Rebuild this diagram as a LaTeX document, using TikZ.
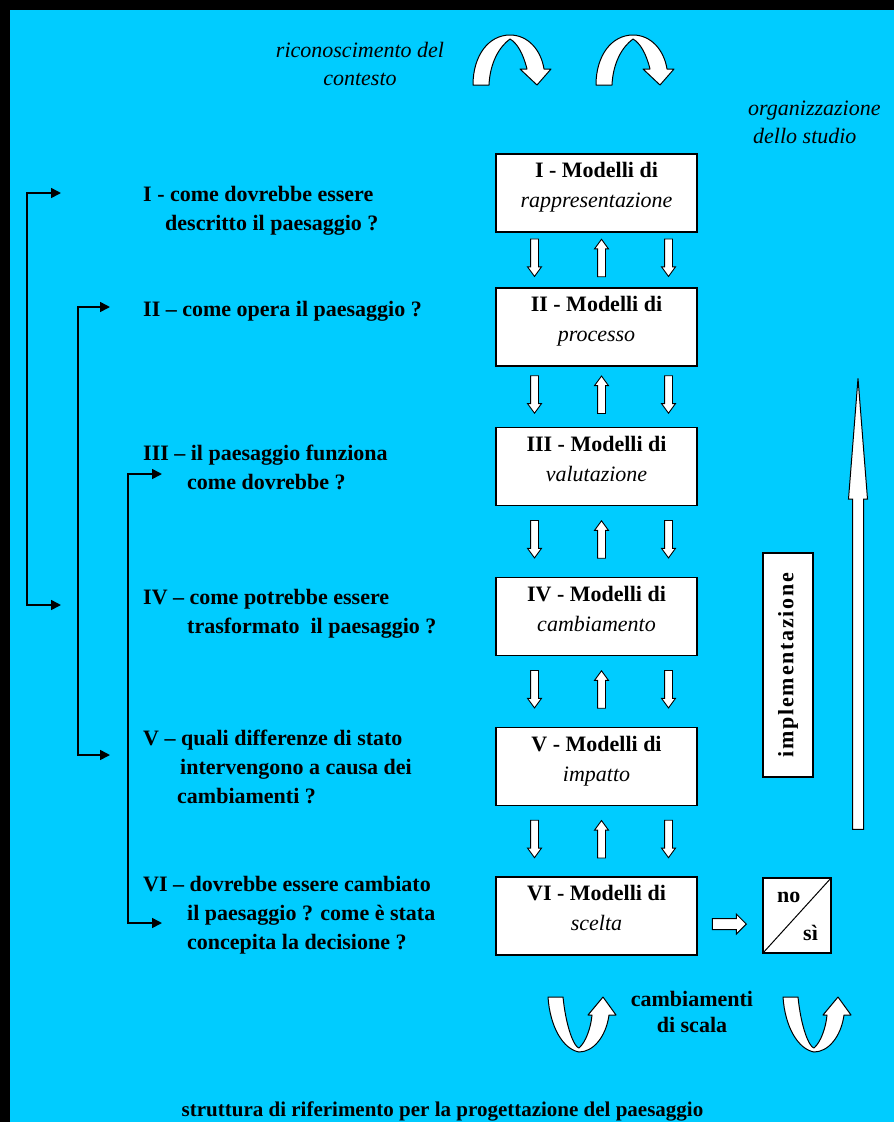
\documentclass[tikz,border=0pt]{standalone}
\usepackage{fontspec}
\setmainfont{Liberation Serif}
\usetikzlibrary{shapes.arrows,arrows.meta,calc}
\definecolor{sfondo}{RGB}{0,204,255}
\tikzset{
  testo/.style={font=\fontsize{22}{29}\selectfont\bfseries, inner sep=0pt, align=left, anchor=north west},
  modello/.style={draw, fill=white, line width=1.2pt, minimum width=201pt, minimum height=78pt, inner sep=0pt},
  titolo/.style={font=\fontsize{22}{30}\selectfont, inner sep=0pt, align=center, anchor=north},
  freccina/.style={single arrow, draw, fill=white, line width=0.9pt, inner sep=3.5pt, minimum height=37.5pt, single arrow head extend=3pt, single arrow tip angle=72},
  rinvio/.style={line width=1.6pt, {Triangle[length=10pt,width=10pt]}-{Triangle[length=10pt,width=10pt]}},
  ricurva/.style={draw, fill=white, line width=1pt, line join=round},
  arco/.pic={\draw[ricurva] (0,0) .. controls (0,-30) and (16,-50) .. (37,-50) .. controls (55,-50) and (68,-35) .. (71,-16) -- (78,-16) -- (64,0) -- (47,-16) -- (54,-16) .. controls (50,-32) and (44,-42) .. (37,-46) .. controls (26,-38) and (17,-22) .. (16,0) -- cycle;},
  conca/.pic={\draw[ricurva] (0,0) -- (15,0) .. controls (18,30) and (26,50) .. (31,51) .. controls (38,45) and (43,30) .. (44,18) -- (40,18) -- (55,0) -- (68,18) -- (61,18) .. controls (58,40) and (45,55) .. (31,55) .. controls (15,52) and (2,30) .. (0,0) -- cycle;},
}
\begin{document}
\begin{tikzpicture}[x=1pt,y=-1pt]
\useasboundingbox (0,0) rectangle (894,1122);
\fill[black] (0,0) rectangle (894,1122);
\fill[sfondo] (10,10) rectangle (894,1122);

\pic at (473,85) {arco};
\pic at (596,85) {arco};
\node[font=\fontsize{22}{28}\selectfont\itshape, align=center, anchor=north, inner sep=0pt] (contesto) at (360,37.4) {\strut riconoscimento del\\contesto};
\node[font=\fontsize{22}{28}\selectfont\itshape, align=left, anchor=north west, inner sep=0pt] (studio) at (748,95.4) {\strut organizzazione\\\hspace*{5pt}dello studio};

\foreach \n/\y/\r/\t in {1/193/I/rappresentazione, 2/327/II/processo, 3/466.5/III/valutazione, 4/616.5/IV/cambiamento, 5/766.5/V/impatto, 6/916/VI/scelta}{
  \node[modello] (m\n) at (596.5,\y) {};
  \node[titolo] (t\n) at ([yshift=-3pt]m\n.north) {\strut\textbf{\r\ - Modelli di}\\\textit{\t}};
}
\foreach \a/\b in {1/2,2/3,3/4,4/5,5/6}{
  \coordinate (c\a) at ($(m\a.south)!.5!(m\b.north)+(0,-21.5)$);
  \node[freccina, rotate=-90, anchor=tail] (g\a a) at ($(c\a)+(-62,0)$) {};
  \node[freccina, rotate=90, anchor=tip] (g\a b) at ($(c\a)+(5,0)$) {};
  \node[freccina, rotate=-90, anchor=tail] (g\a c) at ($(c\a)+(72,0)$) {};
}

\node[testo] (q1) at (143,180.7) {\strut I - come dovrebbe essere\\\hspace*{22pt}descritto il paesaggio ?};
\node[testo] (q2) at (143,295.7) {\strut II – come opera il paesaggio ?};
\node[testo] (q3) at (143,439.7) {\strut III – il paesaggio funziona\\\hspace*{44pt}come dovrebbe ?};
\node[testo] (q4) at (143,583.7) {\strut IV – come potrebbe essere\\\hspace*{44pt}trasformato\ \ il paesaggio ?};
\node[testo] (q5) at (143,724.7) {\strut V – quali differenze di stato\\\hspace*{37pt}intervengono a causa dei\\\hspace*{34pt}cambiamenti ?};
\node[testo] (q6) at (143,870.7) {\strut VI – dovrebbe essere cambiato\\\hspace*{44pt}il paesaggio ? come è stata\\\hspace*{44pt}concepita la decisione ?};

\coordinate (e1) at (61,193);
\coordinate (e4) at (61,605);
\coordinate (e2) at (110,307);
\coordinate (e5) at (110,755);
\coordinate (e3) at (162,474);
\coordinate (e6) at (162,923);
\draw[rinvio] (e1) -- ++(-34,0) |- (e4);
\draw[rinvio] (e2) -- ++(-32,0) |- (e5);
\draw[rinvio] (e3) -- ++(-34,0) |- (e6);

\node[single arrow, draw, fill=white, line width=1pt, rotate=90, anchor=tip, inner sep=5pt, minimum height=451pt, single arrow head extend=4pt, single arrow tip angle=9] (alto) at (858,372) {};
\node[draw, fill=white, line width=1.2pt, rotate=90, minimum width=224pt, minimum height=50pt, inner sep=0pt, font=\fontsize{22}{29}\selectfont\bfseries\addfontfeatures{LetterSpace=8}] (impl) at (788,665) {implementazione};

\node[draw, fill=white, line width=1.2pt, minimum width=68pt, minimum height=75pt, inner sep=0pt] (scelta) at (797,915.5) {};
\draw[line width=1pt] (scelta.south west) -- (scelta.north east);
\node[font=\fontsize{22}{29}\selectfont\bfseries, anchor=base west, inner sep=0pt] (no) at (777,902) {no};
\node[font=\fontsize{22}{29}\selectfont\bfseries, anchor=base west, inner sep=0pt] (si) at (803,940) {sì};
\node[single arrow, draw, fill=white, line width=1pt, anchor=tip, inner sep=5pt, minimum height=34pt, single arrow head extend=4.5pt] (verso) at (747,924) {};

\pic at (548,997) {conca};
\pic at (783,997) {conca};
\node[font=\fontsize{22}{26}\selectfont\bfseries, align=center, anchor=north, inner sep=0pt] (scala) at (692,988.5) {\strut cambiamenti\\di scala};

\node[font=\fontsize{21}{25}\selectfont\bfseries, anchor=base, inner sep=0pt] (struttura) at (442.5,1116) {struttura di riferimento per la progettazione del paesaggio};
\end{tikzpicture}
\end{document}
